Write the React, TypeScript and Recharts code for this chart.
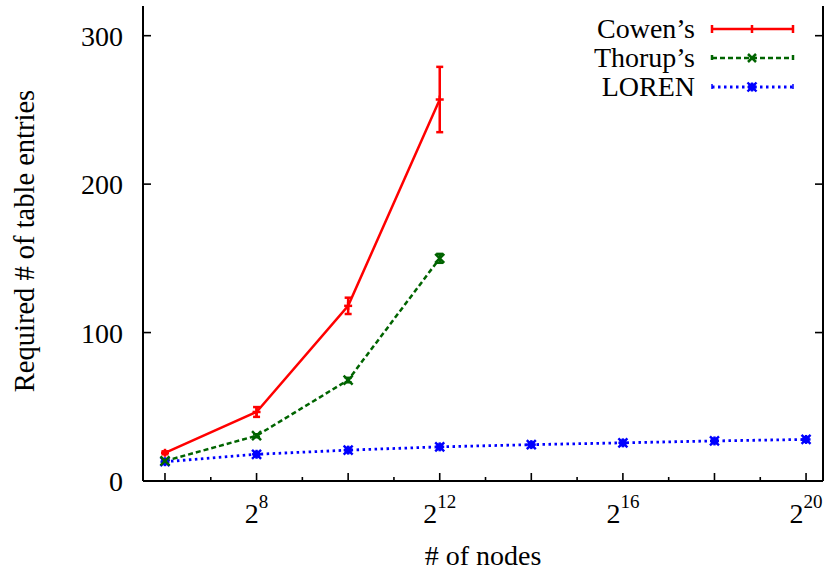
import { LineChart, Line, XAxis, YAxis, ErrorBar } from "recharts";

// x values are log2(# of nodes)
const cowenExp = [6, 8, 10, 12];
const cowenVal = [19, 46.5, 118, 257];
const cowenErr = [1, 3.3, 5.5, 22];

const thorupExp = [6, 8, 10, 12];
const thorupVal = [13.5, 30.5, 68, 150];
const thorupErr = [0.5, 1, 1.5, 3];

const lorenExp = [6, 8, 10, 12, 14, 16, 18, 20];
const lorenVal = [13, 18, 20.8, 23, 24.5, 25.7, 27, 28];

const xTicks = [6, 7, 8, 9, 10, 11, 12, 13, 14, 15, 16, 17, 18, 19, 20];
const xLabeled = [8, 12, 16, 20];
const yTicks = [0, 100, 200, 300];
const seriesNames = ["Cowen\u2019s", "Thorup\u2019s", "LOREN"];

const RED = "#ff0000";
const GREEN = "#006400";
const BLUE = "#0000ff";
const FONT = "'Liberation Serif', 'Times New Roman', serif";

const cowenData = cowenExp.map((e, i) => ({ exp: e, val: cowenVal[i], err: cowenErr[i] }));
const thorupData = thorupExp.map((e, i) => ({ exp: e, val: thorupVal[i], err: thorupErr[i] }));
const lorenData = lorenExp.map((e, i) => ({ exp: e, val: lorenVal[i] }));

function PlusMark({ cx, cy, color, s = 4 }: { cx: number; cy: number; color: string; s?: number }) {
  return (
    <g stroke={color} strokeWidth={2.5}>
      <line x1={cx - s} x2={cx + s} y1={cy} y2={cy} />
      <line x1={cx} x2={cx} y1={cy - s} y2={cy + s} />
    </g>
  );
}

function CrossMark({ cx, cy, color, s = 4.5 }: { cx: number; cy: number; color: string; s?: number }) {
  return (
    <g stroke={color} strokeWidth={2.5}>
      <line x1={cx - s} x2={cx + s} y1={cy - s} y2={cy + s} />
      <line x1={cx - s} x2={cx + s} y1={cy + s} y2={cy - s} />
    </g>
  );
}

function StarMark({ cx, cy, color, s = 4.5 }: { cx: number; cy: number; color: string; s?: number }) {
  return (
    <g stroke={color} strokeWidth={2.4}>
      <line x1={cx - s} x2={cx + s} y1={cy - s} y2={cy + s} />
      <line x1={cx - s} x2={cx + s} y1={cy + s} y2={cy - s} />
      <line x1={cx - s} x2={cx + s} y1={cy} y2={cy} />
      <line x1={cx} x2={cx} y1={cy - s} y2={cy + s} />
      <rect x={cx - s + 1} y={cy - s + 1} width={2 * s - 2} height={2 * s - 2} fill={color} strokeWidth={0} />
    </g>
  );
}

function BottomTick(props: any) {
  const { x, y, payload } = props;
  const e = payload.value;
  const len = e % 2 === 0 ? 8 : 4;
  return (
    <g>
      <line x1={x} x2={x} y1={y} y2={y - len} stroke="#000" strokeWidth={1.6} />
      {xLabeled.includes(e) && (
        <text x={x} y={y + 42} textAnchor="middle" fontSize={28} fontFamily={FONT} fill="#000">
          2
          <tspan fontSize={19} dy={-15}>
            {e}
          </tspan>
        </text>
      )}
    </g>
  );
}

function TopTick(props: any) {
  const { x, y, payload } = props;
  const len = payload.value % 2 === 0 ? 8 : 4;
  return <line x1={x} x2={x} y1={y} y2={y + len} stroke="#000" strokeWidth={1.6} />;
}

function LeftTick(props: any) {
  const { x, y, payload } = props;
  return (
    <g>
      <line x1={x} x2={x + 8} y1={y} y2={y} stroke="#000" strokeWidth={1.6} />
      <text x={x - 20} y={y + 10} textAnchor="end" fontSize={28} fontFamily={FONT} fill="#000">
        {payload.value}
      </text>
    </g>
  );
}

function RightTick(props: any) {
  const { x, y } = props;
  return <line x1={x} x2={x - 8} y1={y} y2={y} stroke="#000" strokeWidth={1.6} />;
}

function LegendBox() {
  const rows = [29, 58, 87];
  const x1 = 712;
  const x2 = 793;
  const mid = 752;
  return (
    <svg width={825} height={574} style={{ position: "absolute", left: 0, top: 0, pointerEvents: "none" }}>
      {seriesNames.map((n, i) => (
        <text key={n} x={695} y={rows[i] + 8.5} textAnchor="end" fontSize={28} fontFamily={FONT} fill="#000">
          {n}
        </text>
      ))}
      <g stroke={RED} strokeWidth={2.5}>
        <line x1={x1} x2={x2} y1={rows[0]} y2={rows[0]} />
        <line x1={x1} x2={x1} y1={rows[0] - 4} y2={rows[0] + 4} />
        <line x1={x2} x2={x2} y1={rows[0] - 4} y2={rows[0] + 4} />
        <line x1={mid} x2={mid} y1={rows[0] - 4} y2={rows[0] + 4} />
      </g>
      <g stroke={GREEN} strokeWidth={2.5}>
        <line x1={x1} x2={x2} y1={rows[1]} y2={rows[1]} strokeDasharray="5 3" />
        <line x1={x1} x2={x1} y1={rows[1] - 3} y2={rows[1] + 2} />
        <line x1={x2} x2={x2} y1={rows[1] - 3} y2={rows[1] + 2} />
      </g>
      <CrossMark cx={mid} cy={rows[1]} color={GREEN} s={4} />
      <g stroke={BLUE} strokeWidth={2.8}>
        <line x1={x1} x2={x2} y1={rows[2]} y2={rows[2]} strokeDasharray="2.5 3.5" />
        <line x1={x1} x2={x1} y1={rows[2] - 3} y2={rows[2] + 2} strokeWidth={1.5} />
        <line x1={x2} x2={x2} y1={rows[2] - 3} y2={rows[2] + 2} strokeWidth={1.5} />
      </g>
      <StarMark cx={mid} cy={rows[2]} color={BLUE} />
      <text x={483} y={565} textAnchor="middle" fontSize={28} fontFamily={FONT} fill="#000">
        # of nodes
      </text>
      <text
        x={34}
        y={241}
        textAnchor="middle"
        fontSize={28.5}
        fontFamily={FONT}
        fill="#000"
        transform="rotate(-90 34 241)"
      >
        Required # of table entries
      </text>
    </svg>
  );
}

export default function App() {
  return (
    <div style={{ position: "absolute", left: 0, top: 0, width: 825, height: 574, background: "#fff" }}>
      <LineChart width={825} height={574} margin={{ top: 6, right: 0, bottom: 0, left: 0 }}>
        <XAxis
          dataKey="exp"
          type="number"
          domain={[5.52, 20.37]}
          ticks={xTicks}
          allowDataOverflow
          height={93}
          tickSize={0}
          tickMargin={0}
          tickLine={false}
          tick={<BottomTick />}
          axisLine={{ stroke: "#000", strokeWidth: 2 }}
          interval={0}
        />
        <XAxis
          xAxisId="top"
          orientation="top"
          dataKey="exp"
          type="number"
          domain={[5.52, 20.37]}
          ticks={xTicks}
          allowDataOverflow
          height={0}
          tickSize={0}
          tickMargin={0}
          tickLine={false}
          tick={<TopTick />}
          axisLine={{ stroke: "#000", strokeWidth: 2 }}
          interval={0}
        />
        <YAxis
          type="number"
          domain={[0, 320]}
          ticks={yTicks}
          allowDataOverflow
          width={143}
          tickSize={0}
          tickMargin={0}
          tickLine={false}
          tick={<LeftTick />}
          axisLine={{ stroke: "#000", strokeWidth: 2 }}
          interval={0}
        />
        <YAxis
          yAxisId="right"
          orientation="right"
          type="number"
          domain={[0, 320]}
          ticks={yTicks}
          allowDataOverflow
          width={2}
          tickSize={0}
          tickMargin={0}
          tickLine={false}
          tick={<RightTick />}
          axisLine={{ stroke: "#000", strokeWidth: 2 }}
          interval={0}
        />
        <Line
          data={lorenData}
          dataKey="val"
          stroke={BLUE}
          strokeWidth={2.8}
          strokeDasharray="2.5 3.5"
          isAnimationActive={false}
          dot={(p: any) => <StarMark key={`l${p.index}`} cx={p.cx} cy={p.cy} color={BLUE} />}
        />
        <Line
          data={thorupData}
          dataKey="val"
          stroke={GREEN}
          strokeWidth={2.5}
          strokeDasharray="5 3"
          isAnimationActive={false}
          dot={(p: any) => <CrossMark key={`t${p.index}`} cx={p.cx} cy={p.cy} color={GREEN} />}
        >
          <ErrorBar dataKey="err" direction="y" width={3.5} stroke={GREEN} strokeWidth={2.5} />
        </Line>
        <Line
          data={cowenData}
          dataKey="val"
          stroke={RED}
          strokeWidth={2.5}
          isAnimationActive={false}
          dot={(p: any) => <PlusMark key={`c${p.index}`} cx={p.cx} cy={p.cy} color={RED} />}
        >
          <ErrorBar dataKey="err" direction="y" width={3.5} stroke={RED} strokeWidth={2.5} />
        </Line>
      </LineChart>
      <LegendBox />
    </div>
  );
}
